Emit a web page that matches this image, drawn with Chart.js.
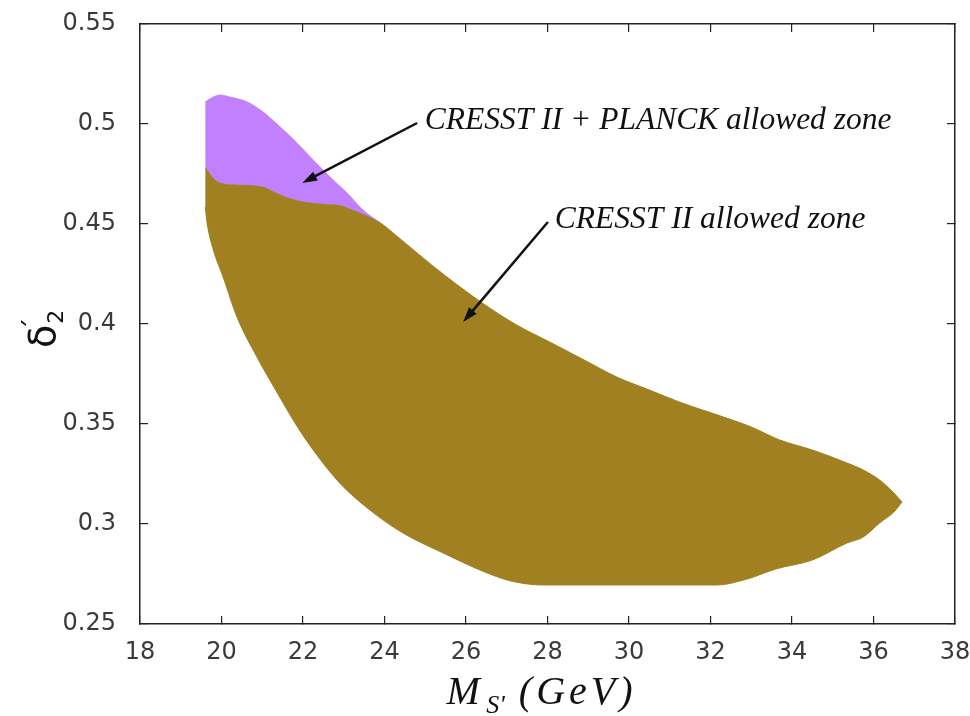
<!DOCTYPE html>
<html>
<head>
<meta charset="utf-8">
<script src="https://cdn.jsdelivr.net/npm/chart.js@4.4.1/dist/chart.umd.min.js"></script>
<style>
  html, body { margin: 0; padding: 0; background: #fff; }
  #wrap { width: 970px; height: 716px; }
</style>
</head>
<body>
<div id="wrap"><canvas id="chart" width="970" height="716"></canvas></div>
<script>
// axis ranges
const xMin = 18, xMax = 38, xStep = 2;
const yMin = 0.25, yMax = 0.55, yStep = 0.05;

// CRESST II allowed zone: upper and lower edges
const cresstUpperX = [19.6, 19.9, 20.3, 21.0, 21.4, 21.7, 22.0, 22.5, 22.9, 23.2, 23.5, 23.9, 24.3, 24.8, 25.5, 26.4, 27.2, 28.1, 28.9, 29.7, 30.5, 31.3, 32.1, 33.0, 33.7, 34.5, 35.35, 35.75, 36.15, 36.5, 36.7];
const cresstUpperY = [0.478, 0.471, 0.4695, 0.4685, 0.4648, 0.4625, 0.461, 0.4598, 0.4592, 0.457, 0.4545, 0.4505, 0.444, 0.4355, 0.424, 0.4105, 0.400, 0.3905, 0.382, 0.3735, 0.367, 0.3605, 0.355, 0.3485, 0.342, 0.337, 0.3305, 0.327, 0.322, 0.3155, 0.311];
const cresstLowerX = [19.6, 19.65, 19.8, 20.04, 20.38, 20.87, 21.4, 21.85, 22.25, 22.9, 23.64, 24.45, 25.44, 26.4, 27.1, 27.9, 32.15, 32.9, 33.6, 34.5, 35.35, 35.75, 36.15, 36.5, 36.7];
const cresstLowerY = [0.4585, 0.45, 0.437, 0.4235, 0.4035, 0.3835, 0.3645, 0.349, 0.337, 0.3205, 0.307, 0.2955, 0.2855, 0.2765, 0.2715, 0.2695, 0.2695, 0.2725, 0.2775, 0.282, 0.2905, 0.2935, 0.3005, 0.306, 0.311];

// CRESST II + PLANCK zone: upper edge (lower edge is the CRESST upper edge up to planckEndX)
const planckUpperX = [19.6, 19.8, 19.96, 20.2, 20.63, 21.02, 21.44, 21.85, 22.25, 22.66, 23.08, 23.47, 23.9];
const planckUpperY = [0.511, 0.5135, 0.5145, 0.5135, 0.511, 0.506, 0.4985, 0.4905, 0.482, 0.4735, 0.4655, 0.457, 0.4505];
const planckEndX = 23.9;

// annotations (data coordinates)
const noteTexts = ['CRESST II + PLANCK allowed zone', 'CRESST II allowed zone'];
const noteX = [24.99, 28.18];
const noteY = [0.4975, 0.448];
const arrowFromX = [24.8, 28.01];
const arrowFromY = [0.5005, 0.451];
const arrowToX = [21.98, 25.93];
const arrowToY = [0.4705, 0.401];

const BROWN = '#a08020';
const PURPLE = '#c080ff';
const AXIS = '#222';

const toPoints = (xs, ys) => xs.map((x, i) => ({ x: x, y: ys[i] }));
const cresstUpper = toPoints(cresstUpperX, cresstUpperY);
const planckLower = cresstUpper.filter(p => p.x <= planckEndX);

// подписи осей и стрелки
const extrasPlugin = {
  id: 'extras',
  afterDraw(chart) {
    const { ctx, chartArea, scales } = chart;
    ctx.save();
    ctx.fillStyle = '#111';
    ctx.strokeStyle = '#111';

    // arrows + notes
    for (let i = 0; i < noteTexts.length; i++) {
      const x1 = scales.x.getPixelForValue(arrowFromX[i]);
      const y1 = scales.y.getPixelForValue(arrowFromY[i]);
      const x2 = scales.x.getPixelForValue(arrowToX[i]);
      const y2 = scales.y.getPixelForValue(arrowToY[i]);
      const a = Math.atan2(y2 - y1, x2 - x1);
      const headLen = 15, headW = 5;
      ctx.lineWidth = 2.5;
      ctx.beginPath();
      ctx.moveTo(x1, y1);
      ctx.lineTo(x2 - Math.cos(a) * headLen * 0.8, y2 - Math.sin(a) * headLen * 0.8);
      ctx.stroke();
      ctx.beginPath();
      ctx.moveTo(x2, y2);
      ctx.lineTo(x2 - Math.cos(a) * headLen - Math.sin(a) * headW, y2 - Math.sin(a) * headLen + Math.cos(a) * headW);
      ctx.lineTo(x2 - Math.cos(a) * headLen + Math.sin(a) * headW, y2 - Math.sin(a) * headLen - Math.cos(a) * headW);
      ctx.closePath();
      ctx.fill();

      ctx.font = 'italic 31.5px "Liberation Serif"';
      ctx.textAlign = 'left';
      ctx.textBaseline = 'alphabetic';
      ctx.fillText(noteTexts[i], scales.x.getPixelForValue(noteX[i]), scales.y.getPixelForValue(noteY[i]));
    }

    // x title: M_S' (GeV)
    const big = 'italic 40px "Liberation Serif"';
    const small = 'italic 26px "Liberation Serif"';
    const parts = [['M', big, 0, 0], [" S'", small, 9, 0], [' (GeV)', big, 0, 4]];
    let total = 0;
    parts.forEach(p => {
      ctx.font = p[1];
      ctx.letterSpacing = p[3] + 'px';
      total += ctx.measureText(p[0]).width;
    });
    let tx = (chartArea.left + chartArea.right) / 2 - total / 2 - 6;
    const ty = 704;
    parts.forEach(p => {
      ctx.font = p[1];
      ctx.letterSpacing = p[3] + 'px';
      ctx.fillText(p[0], tx, ty + p[2]);
      tx += ctx.measureText(p[0]).width;
    });
    ctx.letterSpacing = '0px';

    // y title: delta'_2
    ctx.translate(55, 348);
    ctx.rotate(-Math.PI / 2);
    ctx.font = '38px "DejaVu Sans"';
    ctx.fillText('δ', 0, 0);
    const dw = ctx.measureText('δ').width;
    ctx.font = '26px "DejaVu Sans"';
    ctx.fillText('\u00b4', dw - 6, -12);
    ctx.font = '22px "DejaVu Sans"';
    ctx.fillText('2', dw + 1, 8);
    ctx.restore();
  }
};

const tickFont = { family: 'DejaVu Sans', size: 24 };
const tickColor = '#3a3a3a';
const gridOpts = { drawOnChartArea: false, drawTicks: true, tickLength: -8, color: AXIS, lineWidth: 1.2 };
const borderOpts = { display: true, color: AXIS, width: 1.5 };
const fmt = v => String(+v.toFixed(2));
// fixed box sizes so the plot area matches the picture
const fixBox = (w, h) => s => {
  if (w !== null) s.width = w;
  if (h !== null) s.height = h;
  s.paddingLeft = 0; s.paddingRight = 0; s.paddingTop = 0; s.paddingBottom = 0;
};

const edge = {
  borderWidth: 1,
  pointRadius: 0,
  cubicInterpolationMode: 'monotone'
};

new Chart(document.getElementById('chart'), {
  type: 'line',
  data: {
    datasets: [
      Object.assign({
        label: 'CRESST II upper',
        data: cresstUpper,
        borderColor: BROWN,
        fill: false
      }, edge),
      Object.assign({
        label: 'CRESST II allowed zone',
        data: toPoints(cresstLowerX, cresstLowerY),
        borderColor: BROWN,
        backgroundColor: BROWN,
        fill: '-1'
      }, edge),
      Object.assign({
        label: 'CRESST II + PLANCK upper',
        data: toPoints(planckUpperX, planckUpperY),
        borderColor: PURPLE,
        fill: false
      }, edge),
      Object.assign({}, edge, {
        label: 'CRESST II + PLANCK allowed zone',
        data: planckLower,
        borderColor: BROWN,
        backgroundColor: PURPLE,
        borderWidth: 0,
        fill: '-1'
      })
    ]
  },
  options: {
    responsive: false,
    animation: false,
    layout: { padding: 0 },
    plugins: {
      legend: { display: false },
      tooltip: { enabled: false }
    },
    scales: {
      x: {
        type: 'linear',
        position: 'bottom',
        min: xMin, max: xMax,
        ticks: { stepSize: xStep, font: tickFont, color: tickColor, padding: 22, maxRotation: 0, callback: fmt },
        grid: gridOpts,
        border: borderOpts,
        afterFit: fixBox(null, 92)
      },
      y: {
        type: 'linear',
        position: 'left',
        min: yMin, max: yMax,
        ticks: { stepSize: yStep, font: tickFont, color: tickColor, padding: 32, callback: fmt },
        grid: gridOpts,
        border: borderOpts,
        afterFit: fixBox(140, null)
      },
      x2: {
        type: 'linear',
        position: 'top',
        min: xMin, max: xMax,
        ticks: { stepSize: xStep, display: false },
        grid: gridOpts,
        border: borderOpts,
        afterFit: fixBox(null, 24)
      },
      y2: {
        type: 'linear',
        position: 'right',
        min: yMin, max: yMax,
        ticks: { stepSize: yStep, display: false },
        grid: gridOpts,
        border: borderOpts,
        afterFit: fixBox(15, null)
      }
    }
  },
  plugins: [extrasPlugin]
});
</script>
</body>
</html>
